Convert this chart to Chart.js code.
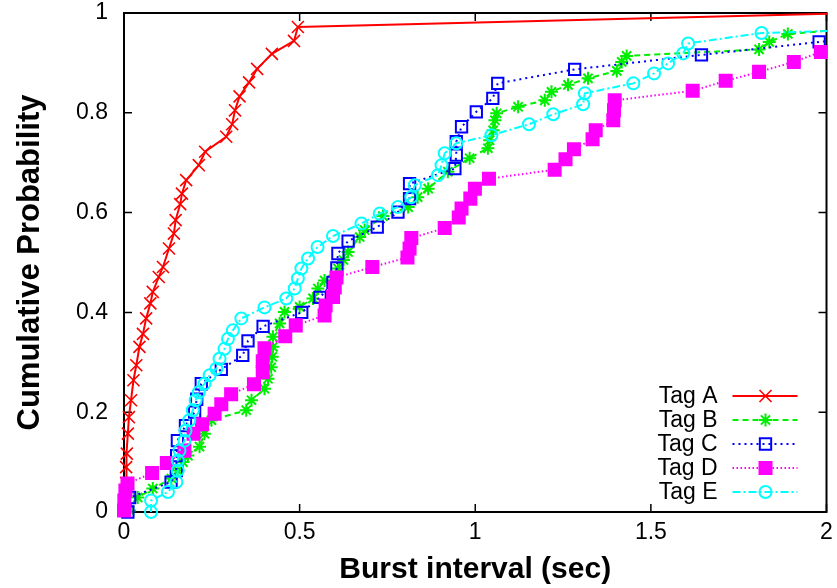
<!DOCTYPE html>
<html>
<head>
<meta charset="utf-8">
<script src="https://cdn.jsdelivr.net/npm/chart.js@4.4.1/dist/chart.umd.min.js"></script>
<style>
  html, body { margin: 0; padding: 0; background: #fff; }
</style>
</head>
<body>
<canvas id="cdf" width="837" height="588"></canvas>
<script>
// eixos
const xTicks = [0, 0.5, 1, 1.5, 2];
const yTicks = [0, 0.2, 0.4, 0.6, 0.8, 1];
const tagNames = ['Tag A', 'Tag B', 'Tag C', 'Tag D', 'Tag E'];

// series (burst interval em seg, prob. acumulada)
const tagAx = [0.003, 0.005, 0.006, 0.006, 0.008, 0.011, 0.014, 0.020, 0.027, 0.035, 0.044, 0.054, 0.063, 0.075, 0.082, 0.099, 0.111, 0.128, 0.142, 0.147, 0.160, 0.165, 0.177, 0.213, 0.231, 0.291, 0.308, 0.316, 0.329, 0.356, 0.379, 0.421, 0.484, 0.495, 2.1];
const tagAy = [0.005, 0.027, 0.058, 0.090, 0.117, 0.157, 0.190, 0.224, 0.264, 0.294, 0.331, 0.357, 0.388, 0.418, 0.441, 0.471, 0.491, 0.528, 0.558, 0.585, 0.617, 0.638, 0.665, 0.695, 0.722, 0.752, 0.777, 0.805, 0.833, 0.861, 0.888, 0.918, 0.944, 0.972, 1.0];

const tagBx = [0.016, 0.039, 0.082, 0.135, 0.153, 0.168, 0.182, 0.215, 0.229, 0.249, 0.348, 0.363, 0.400, 0.410, 0.419, 0.422, 0.424, 0.424, 0.443, 0.457, 0.500, 0.538, 0.552, 0.571, 0.609, 0.625, 0.638, 0.671, 0.685, 0.737, 0.809, 0.836, 0.866, 0.922, 0.984, 1.036, 1.041, 1.051, 1.056, 1.061, 1.122, 1.198, 1.217, 1.264, 1.321, 1.403, 1.417, 1.431, 1.808, 1.837, 1.890, 2.1];
const tagBy = [0.003, 0.029, 0.047, 0.067, 0.083, 0.100, 0.113, 0.131, 0.157, 0.184, 0.204, 0.224, 0.247, 0.267, 0.290, 0.311, 0.331, 0.351, 0.378, 0.401, 0.411, 0.428, 0.448, 0.464, 0.488, 0.505, 0.521, 0.551, 0.565, 0.593, 0.611, 0.631, 0.648, 0.682, 0.709, 0.729, 0.745, 0.765, 0.785, 0.799, 0.812, 0.825, 0.842, 0.856, 0.869, 0.884, 0.902, 0.914, 0.927, 0.942, 0.958, 0.970];

const tagCx = [0.011, 0.016, 0.134, 0.149, 0.150, 0.152, 0.175, 0.201, 0.207, 0.220, 0.277, 0.338, 0.353, 0.396, 0.506, 0.558, 0.595, 0.606, 0.609, 0.638, 0.721, 0.780, 0.813, 0.813, 0.942, 0.946, 0.946, 0.961, 1.003, 1.050, 1.064, 1.283, 1.644, 1.979, 2.1];
const tagCy = [0.000, 0.029, 0.060, 0.083, 0.113, 0.143, 0.173, 0.200, 0.226, 0.257, 0.286, 0.314, 0.343, 0.372, 0.400, 0.430, 0.460, 0.489, 0.518, 0.543, 0.571, 0.601, 0.628, 0.658, 0.688, 0.715, 0.742, 0.772, 0.802, 0.829, 0.859, 0.887, 0.916, 0.942, 0.950];

const tagDx = [0.000, 0.001, 0.004, 0.010, 0.080, 0.122, 0.172, 0.198, 0.222, 0.258, 0.277, 0.305, 0.370, 0.395, 0.395, 0.400, 0.459, 0.489, 0.571, 0.574, 0.595, 0.600, 0.605, 0.707, 0.807, 0.813, 0.818, 0.913, 0.953, 0.961, 0.986, 0.999, 1.039, 1.226, 1.257, 1.281, 1.334, 1.343, 1.393, 1.395, 1.397, 1.619, 1.713, 1.808, 1.907, 1.984, 2.08];
const tagDy = [0.003, 0.023, 0.043, 0.057, 0.078, 0.098, 0.123, 0.157, 0.176, 0.197, 0.216, 0.236, 0.256, 0.280, 0.302, 0.328, 0.352, 0.374, 0.394, 0.414, 0.431, 0.450, 0.470, 0.491, 0.510, 0.528, 0.549, 0.569, 0.590, 0.608, 0.628, 0.648, 0.668, 0.686, 0.707, 0.727, 0.747, 0.765, 0.785, 0.805, 0.825, 0.844, 0.864, 0.882, 0.902, 0.922, 0.942];

const tagEx = [0.077, 0.077, 0.125, 0.149, 0.153, 0.153, 0.158, 0.172, 0.175, 0.186, 0.196, 0.204, 0.213, 0.229, 0.244, 0.263, 0.272, 0.286, 0.296, 0.310, 0.334, 0.400, 0.462, 0.486, 0.495, 0.505, 0.524, 0.551, 0.595, 0.676, 0.728, 0.780, 0.818, 0.828, 0.894, 0.904, 0.913, 0.946, 1.046, 1.153, 1.222, 1.307, 1.312, 1.450, 1.509, 1.549, 1.592, 1.606, 1.815, 2.05];
const tagEy = [0.000, 0.023, 0.040, 0.060, 0.083, 0.103, 0.123, 0.143, 0.163, 0.184, 0.204, 0.224, 0.240, 0.257, 0.274, 0.287, 0.307, 0.327, 0.347, 0.364, 0.388, 0.410, 0.428, 0.448, 0.468, 0.488, 0.508, 0.531, 0.553, 0.578, 0.598, 0.611, 0.631, 0.655, 0.675, 0.695, 0.719, 0.739, 0.755, 0.777, 0.797, 0.817, 0.839, 0.859, 0.879, 0.899, 0.919, 0.939, 0.960, 0.965];

const fonte = '"Liberation Sans", Arial, Helvetica, sans-serif';
Chart.defaults.font.family = fonte;
Chart.defaults.color = '#000';

function pares(xs, ys) {
    return xs.map((x, i) => ({ x: x, y: ys[i] }));
}

const estilos = [
    { cor: '#ff0000', ponto: 'crossRot', raio: 8.5, borda: 1.6, fundo: '#ff0000', dash: [] },
    { cor: '#00ee00', ponto: 'star', raio: 6.5, borda: 2, fundo: '#00ee00', dash: [6, 4] },
    { cor: '#0000ff', ponto: 'rect', raio: 8, borda: 2, fundo: 'rgba(0,0,0,0)', dash: [2, 4] },
    { cor: '#ff00ff', ponto: 'rect', raio: 8.5, borda: 2, fundo: '#ff00ff', dash: [1.5, 2.5] },
    { cor: '#00ffff', ponto: 'circle', raio: 6, borda: 2, fundo: 'rgba(0,0,0,0)', dash: [8, 3, 2, 3] }
];
const series = [pares(tagAx, tagAy), pares(tagBx, tagBy), pares(tagCx, tagCy), pares(tagDx, tagDy), pares(tagEx, tagEy)];

const datasets = tagNames.map((nome, i) => ({
    label: nome,
    data: series[i],
    borderColor: estilos[i].cor,
    backgroundColor: estilos[i].fundo,
    borderWidth: 2,
    borderDash: estilos[i].dash,
    pointStyle: estilos[i].ponto,
    pointRadius: estilos[i].raio,
    pointBorderWidth: estilos[i].borda,
    pointBorderColor: estilos[i].cor,
    pointBackgroundColor: estilos[i].fundo,
    tension: 0,
    order: tagNames.length - 1 - i,
    clip: { left: 14, top: 14, right: 1, bottom: 14 }
}));

// moldura + ticks para dentro (estilo gnuplot)
const moldura = {
    id: 'moldura',
    beforeDatasetsDraw(chart) {
        const { ctx, chartArea: a, scales } = chart;
        ctx.save();
        ctx.strokeStyle = '#000';
        ctx.lineWidth = 1.5;
        ctx.beginPath();
        xTicks.forEach(v => {
            const px = scales.x.getPixelForValue(v);
            ctx.moveTo(px, a.bottom); ctx.lineTo(px, a.bottom - 8);
            ctx.moveTo(px, a.top); ctx.lineTo(px, a.top + 8);
        });
        yTicks.forEach(v => {
            const py = scales.y.getPixelForValue(v);
            ctx.moveTo(a.left, py); ctx.lineTo(a.left + 8, py);
            ctx.moveTo(a.right, py); ctx.lineTo(a.right - 8, py);
        });
        ctx.stroke();
        ctx.lineWidth = 2;
        ctx.strokeRect(a.left, a.top, a.right - a.left, a.bottom - a.top);
        ctx.restore();
    }
};

// legenda no canto inferior direito
const legenda = {
    id: 'legenda',
    afterDraw(chart) {
        const { ctx, chartArea: a } = chart;
        ctx.save();
        ctx.font = '23px ' + fonte;
        ctx.textAlign = 'right';
        ctx.textBaseline = 'middle';
        chart.data.datasets.forEach((ds, i) => {
            const y = a.bottom - 116 + i * 24;
            ctx.fillStyle = '#000';
            ctx.fillText(ds.label, a.right - 109, y + 1);
            ctx.strokeStyle = ds.borderColor;
            ctx.lineWidth = ds.borderWidth;
            ctx.setLineDash(ds.borderDash);
            ctx.beginPath();
            ctx.moveTo(a.right - 94, y);
            ctx.lineTo(a.right - 29, y);
            ctx.stroke();
            ctx.setLineDash([]);
            ctx.fillStyle = ds.pointBackgroundColor;
            ctx.lineWidth = ds.pointBorderWidth;
            Chart.helpers.drawPoint(ctx, {
                pointStyle: ds.pointStyle,
                radius: ds.pointRadius,
                borderWidth: ds.pointBorderWidth,
                rotation: 0
            }, a.right - 61, y);
        });
        ctx.restore();
    }
};

const rotulo = v => String(+v.toFixed(2));

const grafico = document.getElementById('cdf');
if (grafico) {
    new Chart(grafico, {
        type: 'line',
        data: { datasets: datasets },
        plugins: [moldura, legenda],
        options: {
            responsive: false,
            animation: false,
            layout: { padding: { top: 13, right: 10, left: 0, bottom: 0 } },
            plugins: {
                legend: { display: false },
                tooltip: { enabled: false }
            },
            scales: {
                x: {
                    type: 'linear',
                    min: 0,
                    max: 2,
                    afterBuildTicks: s => { s.ticks = xTicks.map(v => ({ value: v })); },
                    afterFit: s => { s.height = 76; s.paddingLeft = 0; s.paddingRight = 0; },
                    grid: { display: false, drawTicks: false },
                    border: { display: false },
                    ticks: { font: { size: 23 }, color: '#000', padding: 7, maxRotation: 0, callback: rotulo },
                    title: {
                        display: true,
                        text: 'Burst interval (sec)',
                        color: '#000',
                        font: { size: 30, weight: 'bold' },
                        padding: { top: 0, bottom: 0 }
                    }
                },
                y: {
                    type: 'linear',
                    min: 0,
                    max: 1,
                    afterBuildTicks: s => { s.ticks = yTicks.map(v => ({ value: v })); },
                    afterFit: s => { s.width = 124; s.paddingTop = 0; s.paddingBottom = 0; },
                    grid: { display: false, drawTicks: false },
                    border: { display: false },
                    ticks: { font: { size: 23 }, color: '#000', padding: 16, callback: rotulo },
                    title: {
                        display: true,
                        text: 'Cumulative Probability',
                        color: '#000',
                        font: { size: 31, weight: 'bold' },
                        padding: { top: 12, bottom: 0 }
                    }
                }
            }
        }
    });
}
</script>
</body>
</html>
